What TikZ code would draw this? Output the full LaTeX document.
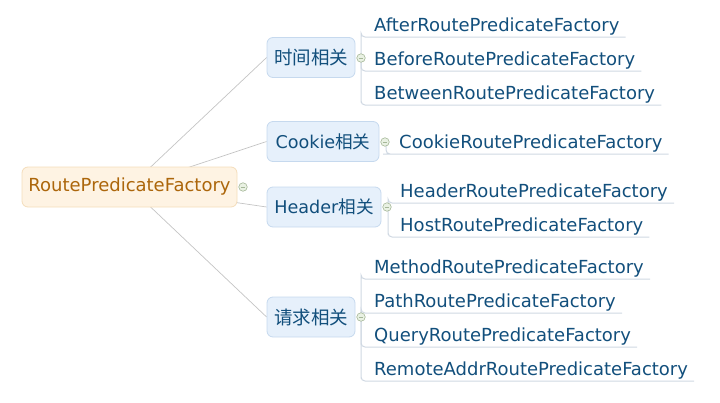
\documentclass[tikz,border=0pt]{standalone}
\usepackage{fontspec}
\setmainfont{DejaVu Sans}
\newfontfamily\cjk{Noto Sans CJK SC}
\usetikzlibrary{backgrounds}
\definecolor{leaftext}{HTML}{124F7C}
\definecolor{brfill}{HTML}{E6F0FB}
\definecolor{brdraw}{HTML}{C6D9EE}
\definecolor{rootfill}{HTML}{FEF3E3}
\definecolor{rootdraw}{HTML}{F4DDBB}
\definecolor{roottext}{HTML}{AC660B}
\definecolor{linegrey}{HTML}{C4C4C4}
\definecolor{ulgrey}{HTML}{CFD8E2}
\definecolor{circfill}{HTML}{E9F1E3}
\definecolor{circdraw}{HTML}{A5B798}
\tikzset{
  rootbox/.style={draw=rootdraw, fill=rootfill, rounded corners=6pt, line width=0.8pt,
     text=roottext, font=\fontsize{18}{21}\selectfont, minimum width=215pt, minimum height=40pt, inner sep=0pt},
  brbox/.style={draw=brdraw, fill=brfill, rounded corners=6pt, line width=0.8pt,
     text=leaftext, font=\fontsize{17.6}{21}\selectfont, minimum height=40pt, inner sep=0pt},
  leaf/.style={text=leaftext, font=\fontsize{18}{21}\selectfont, inner sep=0pt, anchor=base west},
  rootline/.style={draw=linegrey, line width=0.7pt},
  conn/.style={draw=ulgrey, line width=1pt, rounded corners=4pt},
  fold/.style={circle, draw=circdraw, fill=circfill, line width=0.6pt, minimum size=8.5pt, inner sep=0pt,
     path picture={\draw[circdraw, line width=0.7pt] ([xshift=-2.2pt]path picture bounding box.center) -- ([xshift=2.2pt]path picture bounding box.center);}}
}
\begin{document}
\begin{tikzpicture}[x=1pt, y=-1pt]
\useasboundingbox (0,0) rectangle (720,402);
% root
\node[rootbox] (root) at (129.5,187) {RoutePredicateFactory};
\node[fold] (rc) at (243,187) {};
% branches
\node[brbox, minimum width=88pt] (b1) at (311,57.5) {\cjk\fontsize{18.5}{21}\selectfont 时间相关};
\node[brbox, minimum width=112pt] (b2) at (323,141.5) {Cookie{\cjk 相关}};
\node[brbox, minimum width=114pt] (b3) at (324,207) {Header{\cjk 相关}};
\node[brbox, minimum width=88pt] (b4) at (311,317) {\cjk\fontsize{18.5}{21}\selectfont 请求相关};
% fold circles
\coordinate (v1) at (361,58);
\coordinate (v2) at (386,142);
\coordinate (v3) at (388,207);
\coordinate (v4) at (361,317);
% leaves
\node[leaf] (l11) at (374,31) {AfterRoutePredicateFactory};
\node[leaf] (l12) at (374,65) {BeforeRoutePredicateFactory};
\node[leaf] (l13) at (374,99) {BetweenRoutePredicateFactory};
\node[leaf] (l21) at (399,148) {CookieRoutePredicateFactory};
\node[leaf] (l31) at (400,197) {HeaderRoutePredicateFactory};
\node[leaf] (l32) at (400,231) {HostRoutePredicateFactory};
\node[leaf] (l41) at (374,273) {MethodRoutePredicateFactory};
\node[leaf] (l42) at (374,307) {PathRoutePredicateFactory};
\node[leaf] (l43) at (374,341) {QueryRoutePredicateFactory};
\node[leaf] (l44) at (374,375) {RemoteAddrRoutePredicateFactory};
\begin{scope}[on background layer]
  \foreach \b in {b1,b2,b3,b4} \draw[rootline] (root.center) -- (\b.west);
  \foreach \l in {l11,l12,l13} \draw[conn] (v1) |- ([xshift=-13pt,yshift=-6pt]\l.base west) -- ([xshift=6pt,yshift=-6pt]\l.base east);
  \foreach \l in {l21} \draw[conn] (v2) |- ([xshift=-12pt,yshift=-6pt]\l.base west) -- ([xshift=6pt,yshift=-6pt]\l.base east);
  \foreach \l in {l31,l32} \draw[conn] (v3) |- ([xshift=-12pt,yshift=-6pt]\l.base west) -- ([xshift=6pt,yshift=-6pt]\l.base east);
  \foreach \l in {l41,l42,l43,l44} \draw[conn] (v4) |- ([xshift=-13pt,yshift=-6pt]\l.base west) -- ([xshift=6pt,yshift=-6pt]\l.base east);
\end{scope}
\node[fold] (f1) at (v1) {};
\node[fold] (f2) at ([xshift=-1pt]v2) {};
\node[fold] (f3) at ([xshift=-1pt]v3) {};
\node[fold] (f4) at (v4) {};
\end{tikzpicture}
\end{document}
